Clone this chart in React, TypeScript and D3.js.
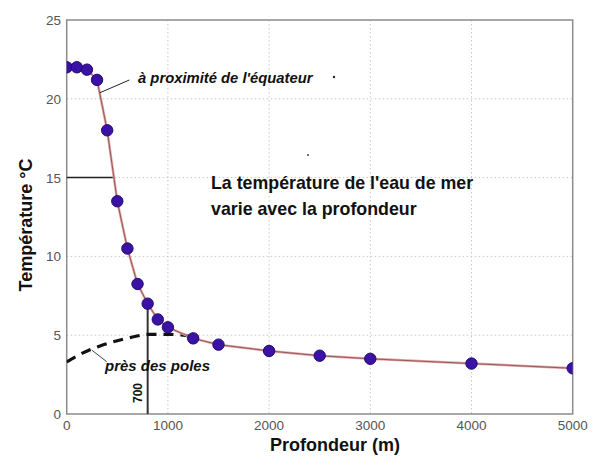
import React from "react";
import * as d3 from "d3";

const depths = [0, 100, 200, 300, 400, 500, 600, 700, 800, 900, 1000, 1250, 1500, 2000, 2500, 3000, 4000, 5000];
const temps = [22, 22, 21.85, 21.2, 18, 13.5, 10.5, 8.25, 7, 6, 5.5, 4.8, 4.4, 4.0, 3.7, 3.5, 3.2, 2.9];

const poleDepths = [0, 150, 330, 500, 660, 800, 1000, 1180, 1250];
const poleTemps = [3.3, 3.85, 4.32, 4.65, 4.9, 5.05, 5.05, 4.98, 4.8];

const xTicks = [0, 1000, 2000, 3000, 4000, 5000];
const yTicks = [0, 5, 10, 15, 20, 25];

const W = 604, H = 457;
const L = 66.7, R = 572.7, T = 20, B = 414;

export default function App() {
  const x = d3.scaleLinear().domain([0, 5000]).range([L, R]);
  const y = d3.scaleLinear().domain([0, 25]).range([B, T]);
  const line = d3.line<number>().x((_, i) => x(depths[i])).y((d) => y(d));
  const poleLine = d3
    .line<number>()
    .x((_, i) => x(poleDepths[i]))
    .y((d) => y(d))
    .curve(d3.curveMonotoneX);
  const sans = "'Liberation Sans', Arial, sans-serif";
  return (
    <svg width={W} height={H} style={{ position: "absolute", left: 0, top: 0, background: "#fff" }}>
      <defs>
        <clipPath id="plot">
          <rect x={L} y={T} width={R - L} height={B - T} />
        </clipPath>
      </defs>
      {/* grid */}
      {xTicks.slice(1, -1).map((t) => (
        <line key={"gx" + t} x1={x(t)} x2={x(t)} y1={T} y2={B} stroke="#c8c8c8" strokeWidth={1} strokeDasharray="1.5,2.5" />
      ))}
      {yTicks.slice(1, -1).map((t) => (
        <line key={"gy" + t} x1={L} x2={R} y1={y(t)} y2={y(t)} stroke="#c8c8c8" strokeWidth={1} strokeDasharray="1.5,2.5" />
      ))}
      {/* frame */}
      <rect x={L} y={T} width={R - L} height={B - T} fill="none" stroke="#8c8c8c" strokeWidth={1.5} />
      {/* tick labels */}
      {xTicks.map((t) => (
        <text key={"xt" + t} x={x(t)} y={430} textAnchor="middle" fontFamily={sans} fontSize={13.5} fill="#555">
          {t}
        </text>
      ))}
      {yTicks.map((t) => (
        <text key={"yt" + t} x={61} y={y(t) + 5} textAnchor="end" fontFamily={sans} fontSize={13.5} fill="#555">
          {t}
        </text>
      ))}
      {/* annotation lines */}
      <line x1={L} x2={x(460)} y1={y(15)} y2={y(15)} stroke="#222" strokeWidth={1.5} />
      <line x1={x(800)} x2={x(800)} y1={y(7)} y2={B} stroke="#333" strokeWidth={2} />
      <path d={poleLine(poleTemps) || ""} fill="none" stroke="#111" strokeWidth={3.2} strokeDasharray="10,7" clipPath="url(#plot)" />
      {/* data line */}
      <g clipPath="url(#plot)">
        <path d={line(temps) || ""} fill="none" stroke="#e6a0a0" strokeWidth={2.5} />
        <path d={line(temps) || ""} fill="none" stroke="#7a4a4a" strokeWidth={0.8} />
        {depths.map((d, i) => (
          <circle key={"p" + d} cx={x(d)} cy={y(temps[i])} r={5.7} fill="#3a12a6" stroke="#24086e" strokeWidth={1} />
        ))}
      </g>
      {/* leader lines */}
      <line x1={100} y1={92.7} x2={129.3} y2={80} stroke="#222" strokeWidth={1} />
      <line x1={91.7} y1={350} x2={106.7} y2={361.7} stroke="#444" strokeWidth={1} />
      <text x={138} y={82.5} fontFamily={sans} fontSize={14.8} fontStyle="italic" fontWeight="bold" fill="#111">
        à proximité de l'équateur
      </text>
      <text x={105} y={370.5} fontFamily={sans} fontSize={15} fontStyle="italic" fontWeight="bold" fill="#111">
        près des poles
      </text>
      <text transform={`translate(142,${393}) rotate(-90)`} textAnchor="middle" fontFamily={sans} fontSize={12} fontWeight="bold" fill="#111">
        700
      </text>
      <circle cx={334} cy={77} r={1.2} fill="#222" />
      <circle cx={308} cy={155} r={1} fill="#444" />
      {/* main text */}
      <text x={211} y={189} fontFamily={sans} fontSize={17.8} fontWeight="bold" fill="#111">
        La température de l'eau de mer
      </text>
      <text x={211} y={215} fontFamily={sans} fontSize={17.8} fontWeight="bold" fill="#111">
        varie avec la profondeur
      </text>
      {/* axis labels */}
      <text x={335} y={451} textAnchor="middle" fontFamily={sans} fontSize={18} fontWeight="bold" fill="#111">
        Profondeur (m)
      </text>
      <text transform={`translate(32,${225}) rotate(-90)`} textAnchor="middle" fontFamily={sans} fontSize={18} fontWeight="bold" fill="#111">
        Température °C
      </text>
    </svg>
  );
}
